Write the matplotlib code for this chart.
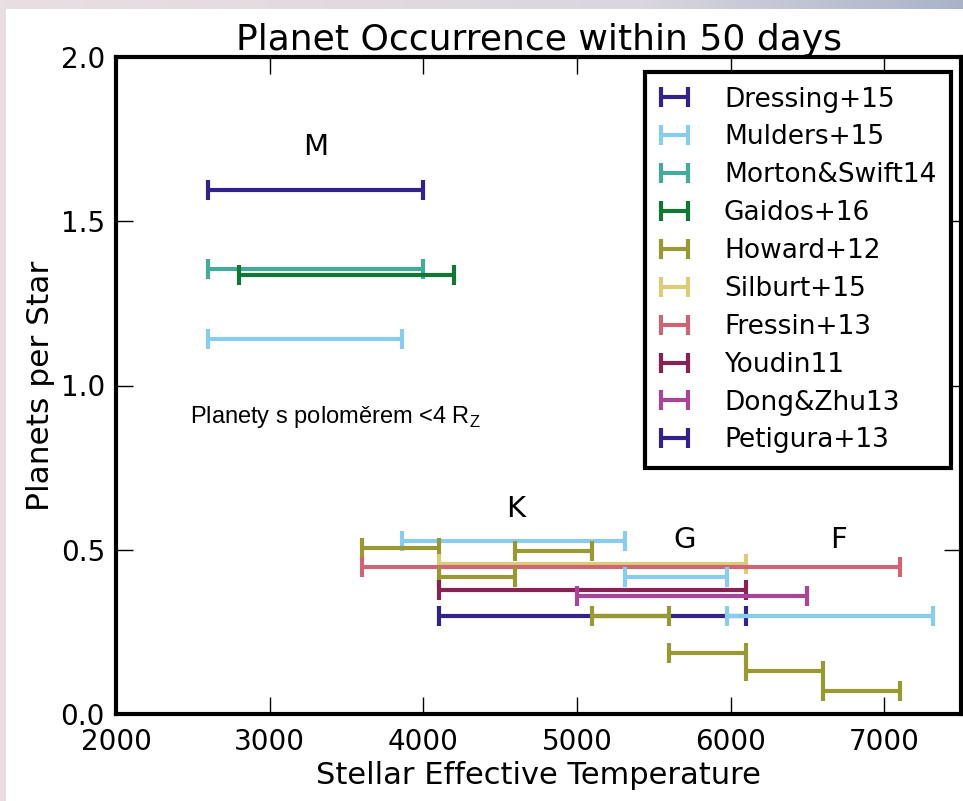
import numpy as np
import matplotlib
matplotlib.use("Agg")
import matplotlib.pyplot as plt
from matplotlib.colors import LinearSegmentedColormap
from matplotlib.patches import Rectangle

plt.rcParams['font.family'] = ['DejaVu Sans']
plt.rcParams['mathtext.fontset'] = 'custom'
plt.rcParams['mathtext.rm'] = 'Liberation Sans'

# ---- data ----
studies = ["Dressing+15", "Mulders+15", "Morton&Swift14", "Gaidos+16", "Howard+12",
           "Silburt+15", "Fressin+13", "Youdin11", "Dong&Zhu13", "Petigura+13"]
colors = ["#332288", "#88CCEE", "#44AA99", "#117733", "#999933",
          "#DDCC77", "#CC6677", "#882255", "#AA4499", "#332288"]

# each bar: study, Teff low, Teff high, planets per star
bar_study = ["Dressing+15", "Morton&Swift14", "Gaidos+16", "Mulders+15",
             "Mulders+15", "Howard+12", "Howard+12", "Silburt+15", "Fressin+13",
             "Howard+12", "Mulders+15", "Youdin11", "Dong&Zhu13",
             "Petigura+13", "Howard+12", "Mulders+15",
             "Howard+12", "Howard+12", "Howard+12"]
bar_tlo = [2600, 2600, 2800, 2600,
           3860, 3600, 4600, 4100, 3600,
           4100, 5310, 4100, 5000,
           4100, 5100, 5980,
           5600, 6100, 6600]
bar_thi = [4000, 4000, 4200, 3860,
           5310, 4100, 5100, 6100, 7100,
           4600, 5980, 6100, 6500,
           6100, 5600, 7320,
           6100, 6600, 7100]
bar_rate = [1.595, 1.355, 1.335, 1.143,
            0.528, 0.505, 0.497, 0.458, 0.446,
            0.416, 0.416, 0.377, 0.358,
            0.297, 0.297, 0.297,
            0.186, 0.130, 0.070]

class_labels = ["M", "K", "G", "F"]
class_teff = [3300, 4600, 5700, 6700]
class_rate = [1.725, 0.625, 0.53, 0.53]

x_ticks = [2000, 3000, 4000, 5000, 6000, 7000]
y_ticks = [0.0, 0.5, 1.0, 1.5, 2.0]

# ---- figure ----
W, H = 963, 801
fig = plt.figure(figsize=(W / 100, H / 100), dpi=100)

# blurred photo-like backdrop
bg = fig.add_axes([0, 0, 1, 1], zorder=-10)
cmap = LinearSegmentedColormap.from_list("bgc", ["#e9dfe3", "#e3dadf", "#d9d6df", "#a9b3c8"])
grad = np.linspace(0, 1, 256)[None, :]
bg.imshow(grad, aspect='auto', cmap=cmap, extent=[0, 1, 0, 1])
bg.add_patch(Rectangle((6 / W, 0), 1, 1 - 9 / H, facecolor='white', edgecolor='none'))
bg.set_xlim(0, 1); bg.set_ylim(0, 1)
bg.axis('off')

ax = fig.add_axes([116 / W, (H - 714) / H, (961 - 116) / W, (714 - 57) / H])

color_of = dict(zip(studies, colors))
seen = set()
for s, lo, hi, r in zip(bar_study, bar_tlo, bar_thi, bar_rate):
    mid = (lo + hi) / 2.0
    half = (hi - lo) / 2.0
    lab = s if s not in seen else None
    seen.add(s)
    ax.errorbar(mid, r, xerr=half, fmt='none', ecolor=color_of[s], elinewidth=3,
                capsize=7, capthick=3, label=lab)

for lab, t, r in zip(class_labels, class_teff, class_rate):
    ax.text(t, r, lab, fontsize=21, ha='center', va='center')

ax.text(2480, 0.886, r'Planety s poloměrem <4 R$_{\rm Z}$', fontsize=17,
        family='Liberation Sans', ha='left', va='baseline')

ax.set_xlim(2000, 7500)
ax.set_ylim(0, 2.0)
ax.set_xticks(x_ticks)
ax.set_yticks(y_ticks)
ax.set_yticklabels([f"{v:.1f}" for v in y_ticks])
ax.tick_params(direction='in', length=12, width=1, top=True, right=True,
               labelsize=20)
ax.tick_params(axis='x', pad=10)
ax.tick_params(axis='y', pad=8)
for sp in ax.spines.values():
    sp.set_linewidth(3)

ax.set_title("Planet Occurrence within 50 days", fontsize=26, pad=5)
ax.set_xlabel("Stellar Effective Temperature", fontsize=22, labelpad=4)
ax.set_ylabel("Planets per Star", fontsize=22.5, labelpad=4)

# legend in the order of the list
handles, labels = ax.get_legend_handles_labels()
order = [labels.index(s) for s in studies]
leg = ax.legend([handles[i] for i in order], [labels[i] for i in order],
                loc='upper right', bbox_to_anchor=(0.988, 0.977), borderaxespad=0,
                fontsize=19, handlelength=1.15, handletextpad=1.3, labelspacing=0.45,
                borderpad=0.55, frameon=True, fancybox=False, framealpha=1)
leg.get_frame().set_edgecolor('black')
leg.get_frame().set_linewidth(3)

fig.savefig("out.png", dpi=100)
